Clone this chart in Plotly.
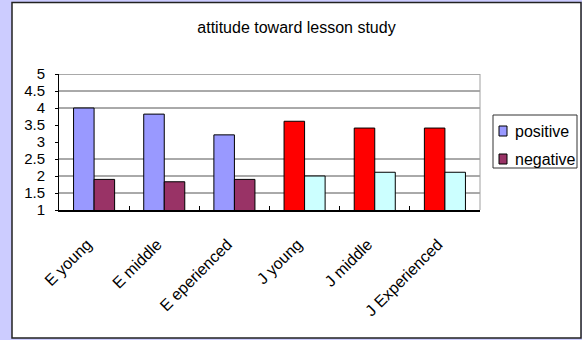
import plotly.graph_objects as go

# ---- data ----
categories = ["E young", "E middle", "E eperienced", "J young", "J middle", "J Experienced"]
positive = [4.0, 3.82, 3.21, 3.61, 3.41, 3.41]
negative = [1.9, 1.83, 1.9, 2.0, 2.11, 2.11]
positive_colors = ["#9999FF", "#9999FF", "#9999FF", "#FF0000", "#FF0000", "#FF0000"]
negative_colors = ["#993366", "#993366", "#993366", "#CCFFFF", "#CCFFFF", "#CCFFFF"]
series_names = ["positive", "negative"]
legend_colors = ["#9999FF", "#993366"]
y_ticks = [1, 1.5, 2, 2.5, 3, 3.5, 4, 4.5, 5]
grid_values = [1.5, 2, 2.5, 4, 4.5, 5]
title_text = "attitude toward lesson study"

# ---- layout geometry (pixels) ----
W, H = 582, 340
L, R, T, B = 59, 102, 74, 130
PW, PH = W - L - R, H - T - B


def px(x):
    return (x - L) / PW


def py(y):
    return (H - B - y) / PH


fig = go.Figure()
fig.add_trace(go.Bar(x=categories, y=positive, name=series_names[0],
                     marker=dict(color=positive_colors, line=dict(color="#000000", width=1)),
                     showlegend=False))
fig.add_trace(go.Bar(x=categories, y=negative, name=series_names[1],
                     marker=dict(color=negative_colors, line=dict(color="#000000", width=1)),
                     showlegend=False))

shapes = []
# white chart box
shapes.append(dict(type="rect", xref="paper", yref="paper", layer="below",
                   x0=px(12), x1=px(581), y0=py(338), y1=py(2.5),
                   fillcolor="#FFFFFF", line=dict(color="#222222", width=1.5)))
# gridlines
for g in grid_values:
    shapes.append(dict(type="line", xref="paper", yref="y", layer="below",
                       x0=0, x1=1, y0=g, y1=g, line=dict(color="#555555", width=1)))
# right border of plot area
shapes.append(dict(type="line", xref="paper", yref="paper", layer="below",
                   x0=1, x1=1, y0=0, y1=1, line=dict(color="#A0A0A0", width=1)))
# legend box
shapes.append(dict(type="rect", xref="paper", yref="paper",
                   x0=px(493), x1=px(577), y0=py(168), y1=py(115),
                   fillcolor="#FFFFFF", line=dict(color="#333333", width=1)))
annotations = []
for i, (nm, c) in enumerate(zip(series_names, legend_colors)):
    cy = 131 + i * 28
    shapes.append(dict(type="rect", xref="paper", yref="paper",
                       x0=px(499), x1=px(507), y0=py(cy + 5), y1=py(cy - 5),
                       fillcolor=c, line=dict(color="#000000", width=1)))
    annotations.append(dict(text=nm, xref="paper", yref="paper", x=px(513), y=py(cy),
                            xanchor="left", yanchor="middle", showarrow=False,
                            font=dict(family="Liberation Sans, Arial, sans-serif", size=16, color="#000000")))

fig.update_layout(
    width=W, height=H,
    margin=dict(l=L, r=R, t=T, b=B, pad=0),
    paper_bgcolor="#CCCCFF",
    plot_bgcolor="rgba(0,0,0,0)",
    barmode="group", bargap=0.415, bargroupgap=0,
    showlegend=False,
    title=dict(text=title_text, x=296.5 / W, xanchor="center", xref="container",
               y=1 - 27 / H, yanchor="middle", yref="container",
               font=dict(family="Liberation Sans, Arial, sans-serif", size=16, color="#000000")),
    font=dict(family="Liberation Sans, Arial, sans-serif", color="#000000"),
    shapes=shapes,
    annotations=annotations,
)
fig.update_xaxes(type="category", showgrid=False, showline=True, linecolor="#000000", linewidth=1.5,
                 ticks="inside", tickson="boundaries", ticklen=4, tickcolor="#000000",
                 tickangle=-45, tickfont=dict(size=16), ticklabelstandoff=17, ticklabelshift=-7)
fig.update_yaxes(range=[1, 5], tickvals=y_ticks, ticktext=[f"{v:g}" for v in y_ticks],
                 showgrid=False, zeroline=False, showline=True, linecolor="#000000", linewidth=1,
                 ticks="outside", ticklen=3, tickcolor="#000000",
                 tickfont=dict(size=15), ticklabelstandoff=7)

fig.write_html("out.html")
